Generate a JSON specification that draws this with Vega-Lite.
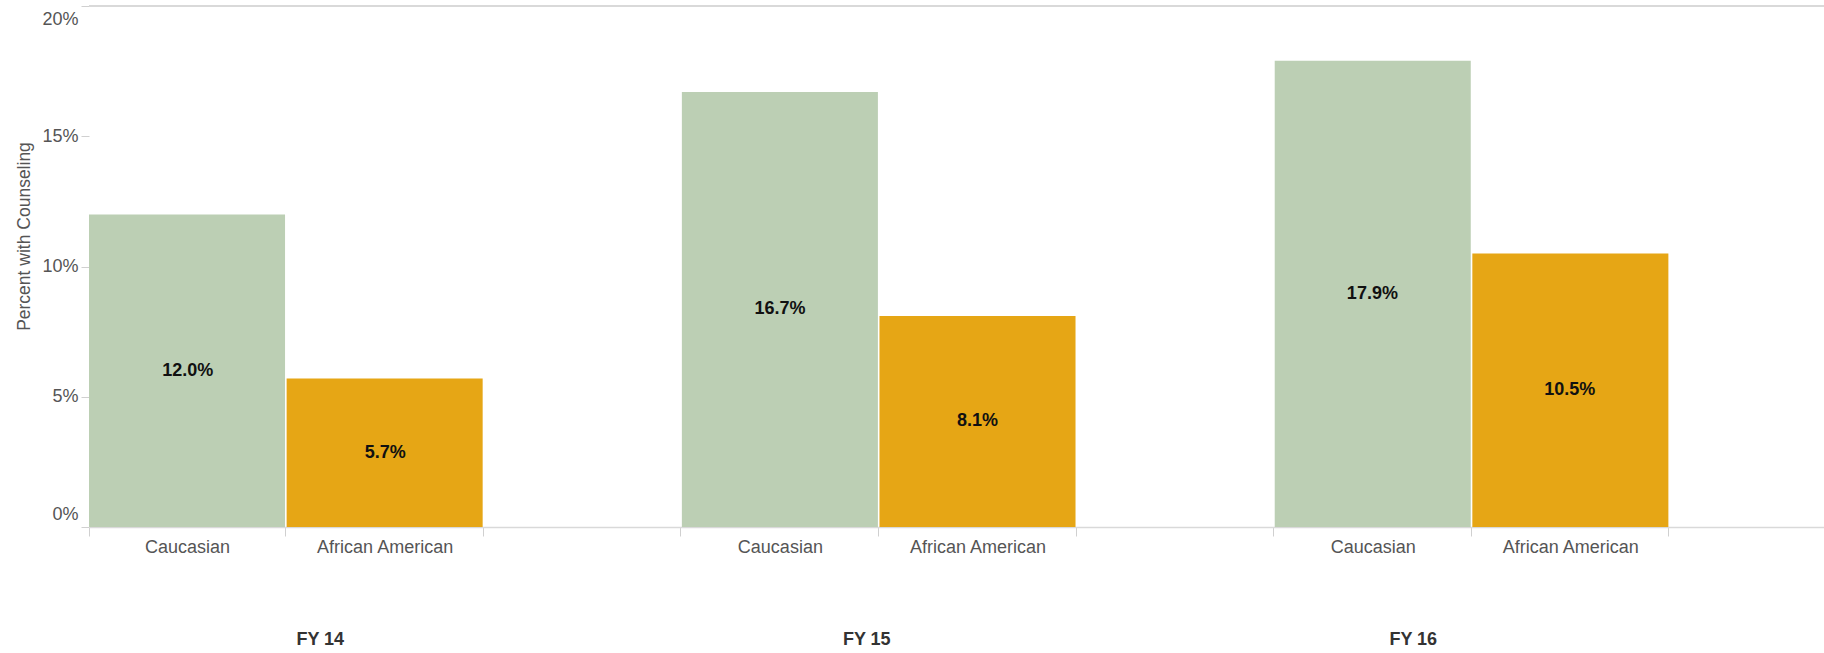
{
  "$schema": "https://vega.github.io/schema/vega-lite/v6.json",
  "autosize": {"type": "none"},
  "width": 1735,
  "height": 521,
  "padding": {"left": 89, "top": 6, "right": 0, "bottom": 126},
  "background": "white",
  "config": {"view": {"stroke": null}, "font": "Liberation Sans"},
  "data": {"values": [
    {"fy": "FY 14", "group": "Caucasian", "slot": "FY 14|Caucasian", "value": 0.120},
    {"fy": "FY 14", "group": "African American", "slot": "FY 14|African American", "value": 0.057},
    {"fy": "FY 15", "group": "Caucasian", "slot": "FY 15|Caucasian", "value": 0.167},
    {"fy": "FY 15", "group": "African American", "slot": "FY 15|African American", "value": 0.081},
    {"fy": "FY 16", "group": "Caucasian", "slot": "FY 16|Caucasian", "value": 0.179},
    {"fy": "FY 16", "group": "African American", "slot": "FY 16|African American", "value": 0.105}
  ]},
  "layer": [
    {
      "mark": {"type": "rule", "color": "#d9d9d9", "strokeWidth": 2},
      "encoding": {
        "y": {"datum": 0.2, "type": "quantitative", "scale": {"domain": [0, 0.2]}, "axis": null}
      }
    },
    {
      "mark": {"type": "bar"},
      "encoding": {
        "x": {
          "field": "slot", "type": "nominal",
          "scale": {"domain": ["FY 14|Caucasian", "FY 14|African American", "FY 14|", "FY 15|Caucasian", "FY 15|African American", "FY 15|", "FY 16|Caucasian", "FY 16|African American", "FY 16|"], "range": [0, 1777], "paddingInner": 0.008, "paddingOuter": 0},
          "axis": {"title": null, "labelExpr": "split(datum.value, '|')[1]", "labelAngle": 0, "labelFontSize": 18, "labelColor": "#555555", "tickBand": "extent", "tickColor": "#d0d0d0", "tickSize": 9, "domainColor": "#d9d9d9", "domainWidth": 1.5, "labelPadding": 2}
        },
        "y": {
          "field": "value", "type": "quantitative",
          "scale": {"domain": [0, 0.2]},
          "axis": {"values": [0, 0.05, 0.1, 0.15, 0.2], "format": ".0%", "title": "Percent with Counseling", "titleFontSize": 17.5, "titleFontWeight": "normal", "titleColor": "#555555", "titleX": -56, "titleY": 230, "labelFontSize": 18, "labelColor": "#555555", "domain": false, "grid": false, "tickColor": "#d0d0d0", "tickSize": 8, "labelPadding": 3, "labelFlush": true, "labelFlushOffset": -4}
        },
        "color": {"field": "group", "type": "nominal", "scale": {"domain": ["Caucasian", "African American"], "range": ["#bccfb4", "#e6a615"]}, "legend": null}
      }
    },
    {
      "mark": {"type": "text", "fontWeight": "bold", "fontSize": 18, "color": "#111111", "baseline": "middle"},
      "encoding": {
        "x": {"field": "slot", "type": "nominal", "scale": {"domain": ["FY 14|Caucasian", "FY 14|African American", "FY 14|", "FY 15|Caucasian", "FY 15|African American", "FY 15|", "FY 16|Caucasian", "FY 16|African American", "FY 16|"], "range": [0, 1777], "paddingInner": 0.008, "paddingOuter": 0}, "axis": null},
        "y": {"field": "value", "type": "quantitative", "scale": {"domain": [0, 0.4]}, "axis": null},
        "text": {"field": "value", "type": "quantitative", "format": ".1%"}
      }
    },
    {
      "transform": [{"filter": "datum.group === 'African American'"}],
      "mark": {"type": "text", "fontWeight": "bold", "fontSize": 18, "color": "#333333", "baseline": "middle", "dy": 113},
      "encoding": {
        "x": {"field": "fy", "type": "nominal", "scale": {"domain": ["FY 14", "FY 15", "FY 16"], "range": [-42, 1597.5], "paddingInner": 0, "paddingOuter": 0}, "axis": null},
        "y": {"datum": 0, "type": "quantitative", "scale": {"domain": [0, 0.2]}, "axis": null},
        "text": {"field": "fy", "type": "nominal"}
      }
    }
  ],
  "resolve": {"scale": {"y": "independent", "x": "independent"}}
}
